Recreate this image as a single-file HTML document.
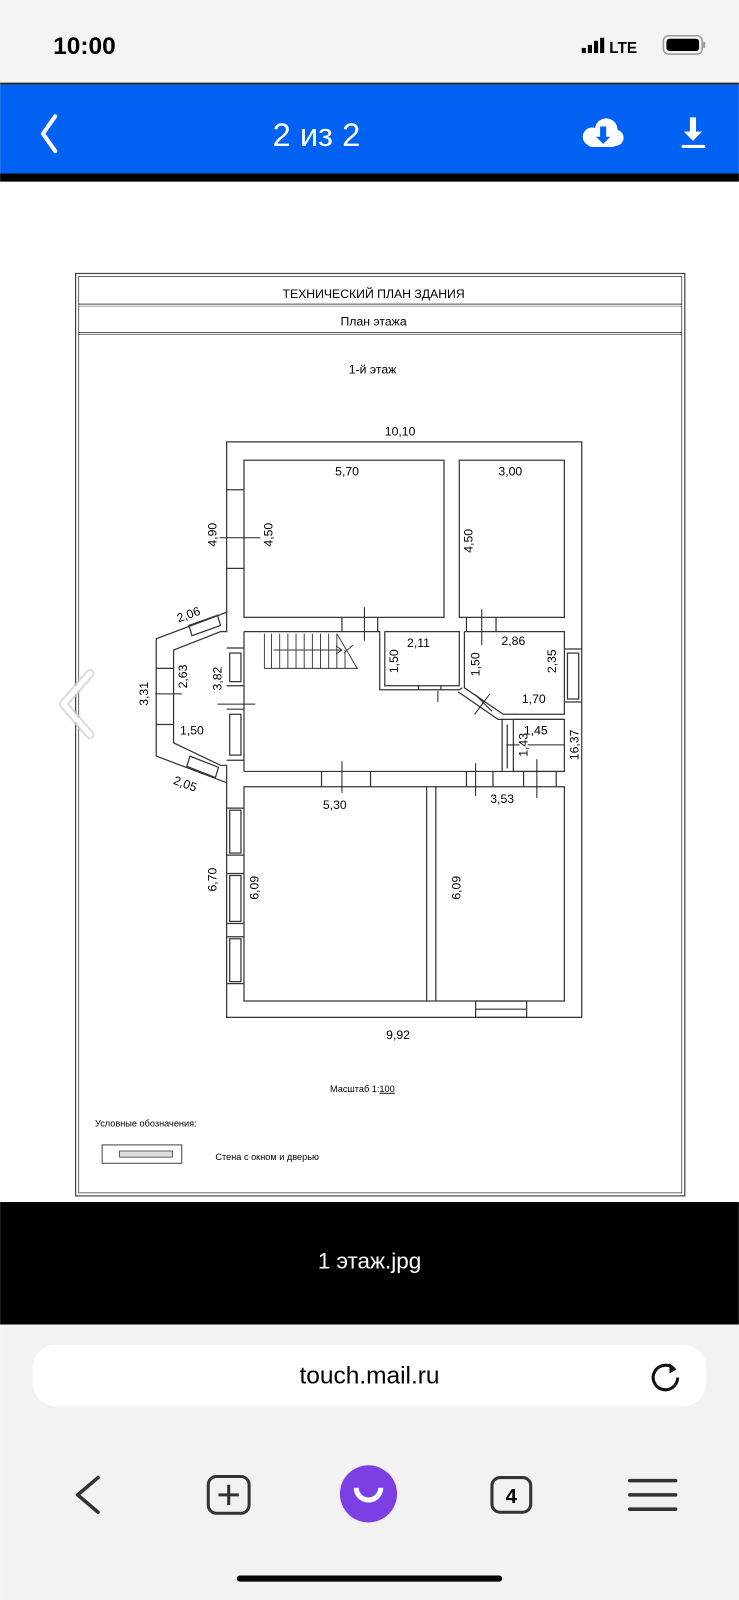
<!DOCTYPE html>
<html><head><meta charset="utf-8"><style>
html,body{margin:0;padding:0;width:739px;height:1600px;overflow:hidden;background:#fff}
svg{display:block}
text{font-family:"Liberation Sans",sans-serif;fill:#000}
</style></head><body>
<svg width="739" height="1600" viewBox="0 0 724 1568" xmlns="http://www.w3.org/2000/svg">
<!-- status bar -->
<rect x="0" y="0" width="724" height="82" fill="#f4f4f4"/>
<text x="52" y="53" font-size="24" font-weight="bold">10:00</text>
<rect x="570" y="47" width="4" height="5" fill="#000"/><rect x="576" y="44" width="4" height="8" fill="#000"/><rect x="582" y="40" width="4" height="12" fill="#000"/><rect x="588" y="37" width="4" height="15" fill="#000"/>
<text x="597" y="52" font-size="15" font-weight="bold">LTE</text>
<rect x="650" y="35" width="38" height="18" rx="5" fill="none" stroke="#999" stroke-width="1.5"/><rect x="653" y="38" width="32" height="12" rx="3" fill="#000"/><rect x="689" y="41" width="2" height="6" fill="#999"/>
<rect x="0" y="81" width="724" height="2" fill="#222"/>
<!-- blue bar -->
<rect x="0" y="83" width="724" height="87" fill="#0061f3"/>
<polyline points="54,114 42,131 54,148" fill="none" stroke="#fff" stroke-width="4" stroke-linecap="round" stroke-linejoin="round"/>
<text x="310" y="143" font-size="32" fill="#fff" text-anchor="middle" style="fill:#fff">2 из 2</text>
<circle cx="580" cy="134" r="9" fill="#fff"/><circle cx="594" cy="127" r="11" fill="#fff"/><circle cx="603" cy="135" r="8" fill="#fff"/><rect x="575" y="134" width="30" height="10" rx="5" fill="#fff"/>
<path d="M588 124v10h-4l7 7 7-7h-4v-10z" fill="#0061f3"/>
<path d="M676 115v14h-6l9 9 9-9h-6v-14z" fill="#fff"/><rect x="668" y="142" width="23" height="3" fill="#fff"/>
<rect x="0" y="170" width="724" height="8" fill="#000"/>
<!-- frame -->
<g fill="none" stroke="#444">
<rect x="74" y="268" width="597" height="904" stroke-width="1.2"/>
<rect x="77" y="271" width="591" height="898" stroke-width="0.8"/>
<line x1="77" y1="298" x2="668" y2="298"/><line x1="77" y1="300" x2="668" y2="300" stroke-width="0.6"/>
<line x1="77" y1="326" x2="668" y2="326"/><line x1="77" y1="328" x2="668" y2="328" stroke-width="0.6"/>
</g>
<text x="366" y="292" font-size="12" text-anchor="middle">ТЕХНИЧЕСКИЙ ПЛАН ЗДАНИЯ</text>
<text x="366" y="319" font-size="12" text-anchor="middle">План этажа</text>
<text x="365" y="366" font-size="12" text-anchor="middle">1-й этаж</text>
<!-- plan -->
<g fill="none" stroke="#333" stroke-width="1.2">
<polyline points="222,600 222,433 570,433 570,997 222,997 222,767"/>
<polygon points="222,600 153,626 153,741 222,767 222,750 216,750 170,728 170,637 216,619 222,619"/>
<rect x="239" y="451" width="196" height="154"/>
<rect x="450" y="451" width="103" height="154"/>
<polyline points="239,619 372,619 372,676 450,676 453,674"/>
<line x1="239" y1="619" x2="239" y2="756"/>
<rect x="377" y="619" width="73" height="53"/>
<polyline points="455,619 553,619 553,700 493,700 455,674 455,619"/>
<polyline points="449,678 488,705 553,705"/>
<polyline points="239,756 492,756 492,705"/>
<rect x="503" y="705" width="50" height="51"/>
<line x1="492" y1="756" x2="553" y2="756"/>
<rect x="239" y="771" width="314" height="210"/>
<line x1="418" y1="771" x2="418" y2="981"/><line x1="427" y1="771" x2="427" y2="981"/>
<!-- windows -->
<line x1="222" y1="480" x2="239" y2="480"/><line x1="222" y1="557" x2="239" y2="557"/>
<rect x="225" y="640" width="11" height="28"/><rect x="225" y="700" width="11" height="40"/>
<line x1="222" y1="635" x2="239" y2="635"/><line x1="222" y1="672" x2="239" y2="672"/><line x1="222" y1="695" x2="239" y2="695"/><line x1="222" y1="745" x2="239" y2="745"/>
<rect x="225" y="794" width="11" height="42"/><rect x="225" y="858" width="11" height="45"/><rect x="225" y="920" width="11" height="42"/>
<line x1="222" y1="792" x2="239" y2="792"/><line x1="222" y1="838" x2="239" y2="838"/><line x1="222" y1="856" x2="239" y2="856"/><line x1="222" y1="905" x2="239" y2="905"/><line x1="222" y1="918" x2="239" y2="918"/><line x1="222" y1="964" x2="239" y2="964"/>
<rect x="556" y="640" width="11" height="45"/><line x1="553" y1="636" x2="570" y2="636"/><line x1="553" y1="688" x2="570" y2="688"/>
<line x1="153" y1="655" x2="170" y2="655"/><line x1="153" y1="710" x2="170" y2="710"/>
<polygon points="185,613 213,603 216,613 188,623"/><polygon points="186,741 214,752 211,762 183,751"/>
<rect x="466" y="981" width="50" height="16"/><line x1="466" y1="989" x2="516" y2="989"/>
<!-- door openings -->
<line x1="335" y1="605" x2="335" y2="619"/><line x1="370" y1="605" x2="370" y2="619"/>
<line x1="457" y1="605" x2="457" y2="619"/><line x1="486" y1="605" x2="486" y2="619"/>
<line x1="315" y1="756" x2="315" y2="771"/><line x1="363" y1="756" x2="363" y2="771"/>
<line x1="457" y1="756" x2="457" y2="771"/><line x1="483" y1="756" x2="483" y2="771"/><line x1="513" y1="756" x2="513" y2="771"/><line x1="545" y1="756" x2="545" y2="771"/>
<line x1="410" y1="672" x2="410" y2="676"/><line x1="432" y1="672" x2="432" y2="676"/>
<line x1="497" y1="710" x2="497" y2="753"/>
</g>
<!-- stairs -->
<g fill="none" stroke="#333" stroke-width="0.9">
<polyline points="259,621 259,655 350,655 330,621"/>
<line x1="266" y1="621" x2="266" y2="655"/><line x1="274" y1="621" x2="274" y2="655"/><line x1="282" y1="621" x2="282" y2="655"/><line x1="290" y1="621" x2="290" y2="655"/><line x1="298" y1="621" x2="298" y2="655"/><line x1="306" y1="621" x2="306" y2="655"/><line x1="314" y1="621" x2="314" y2="655"/><line x1="322" y1="621" x2="322" y2="655"/><line x1="330" y1="621" x2="330" y2="655"/><line x1="338" y1="637" x2="338" y2="655"/>
<line x1="268" y1="637" x2="335" y2="637"/><polyline points="329,633 335,637 329,641"/><line x1="337" y1="640" x2="346" y2="632"/>
</g>
<!-- dim lines -->
<g stroke="#222" stroke-width="1">
<line x1="215" y1="527" x2="255" y2="527"/><line x1="357" y1="595" x2="357" y2="628"/><line x1="472" y1="597" x2="472" y2="632"/>
<line x1="152" y1="680" x2="178" y2="680"/><line x1="213" y1="690" x2="250" y2="690"/>
<line x1="335" y1="746" x2="335" y2="777"/><line x1="466" y1="748" x2="466" y2="780"/><line x1="526" y1="744" x2="526" y2="782"/>
<line x1="517" y1="730" x2="553" y2="730"/><line x1="496" y1="730" x2="509" y2="730"/><line x1="429" y1="677" x2="429" y2="688"/>
<line x1="465" y1="700" x2="480" y2="680"/><line x1="466" y1="681" x2="482" y2="697"/>
</g>
<g font-size="12">
<text x="392" y="427" text-anchor="middle">10,10</text>
<text x="340" y="466" text-anchor="middle">5,70</text>
<text x="500" y="466" text-anchor="middle">3,00</text>
<text x="410" y="634" text-anchor="middle">2,11</text>
<text x="503" y="632" text-anchor="middle">2,86</text>
<text x="523" y="689" text-anchor="middle">1,70</text>
<text x="188" y="720" text-anchor="middle">1,50</text>
<text x="525" y="720" text-anchor="middle">1,45</text>
<text x="328" y="793" text-anchor="middle">5,30</text>
<text x="492" y="787" text-anchor="middle">3,53</text>
<text x="390" y="1018" text-anchor="middle">9,92</text>
<text transform="translate(212,524) rotate(-90)" text-anchor="middle">4,90</text>
<text transform="translate(267,524) rotate(-90)" text-anchor="middle">4,50</text>
<text transform="translate(463,530) rotate(-90)" text-anchor="middle">4,50</text>
<text transform="translate(186,606) rotate(-20)" text-anchor="middle">2,06</text>
<text transform="translate(390,648) rotate(-90)" text-anchor="middle">1,50</text>
<text transform="translate(470,651) rotate(-90)" text-anchor="middle">1,50</text>
<text transform="translate(545,648) rotate(-90)" text-anchor="middle">2,35</text>
<text transform="translate(145,680) rotate(-90)" text-anchor="middle">3,31</text>
<text transform="translate(183,663) rotate(-90)" text-anchor="middle">2,63</text>
<text transform="translate(217,665) rotate(-90)" text-anchor="middle">3,82</text>
<text transform="translate(517,730) rotate(-90)" text-anchor="middle">1,43</text>
<text transform="translate(567,730) rotate(-90)" text-anchor="middle">16,37</text>
<text transform="translate(180,772) rotate(20)" text-anchor="middle">2,05</text>
<text transform="translate(212,862) rotate(-90)" text-anchor="middle">6,70</text>
<text transform="translate(253,870) rotate(-90)" text-anchor="middle">6,09</text>
<text transform="translate(451,870) rotate(-90)" text-anchor="middle">6,09</text>
</g>
<text x="355" y="1070" font-size="9" text-anchor="middle">Масштаб 1:<tspan text-decoration="underline">100</tspan></text>
<text x="93" y="1104" font-size="9">Условные обозначения:</text>
<rect x="100" y="1122" width="78" height="18" fill="none" stroke="#444"/>
<rect x="117" y="1128" width="52" height="6" fill="#ddd" stroke="#444" stroke-width="0.8"/>
<text x="211" y="1137" font-size="9">Стена с окном и дверью</text>
<!-- overlay chevron -->
<polyline points="88,660 62,690 88,720" fill="none" stroke="#ccc" stroke-width="9" stroke-linecap="round" stroke-linejoin="round" opacity="0.7"/>
<polyline points="88,660 62,690 88,720" fill="none" stroke="#fff" stroke-width="5" stroke-linecap="round" stroke-linejoin="round"/>
<!-- black caption bar -->
<rect x="0" y="1178" width="724" height="120" fill="#000"/>
<text x="362" y="1243" font-size="22" text-anchor="middle" style="fill:#fff">1 этаж.jpg</text>
<!-- bottom browser -->
<rect x="0" y="1298" width="724" height="270" fill="#f2f2f2"/>
<rect x="32" y="1318" width="660" height="60" rx="22" fill="#fff"/>
<text x="362" y="1356" font-size="24" text-anchor="middle" fill="#222">touch.mail.ru</text>
<path d="M664 1350a12 12 0 1 1-4-9" fill="none" stroke="#111" stroke-width="3"/><path d="M656 1336l7 6-7 4z" fill="#111"/>
<polyline points="96,1448 76,1465 96,1482" fill="none" stroke="#333" stroke-width="3.5" stroke-linecap="round" stroke-linejoin="round"/>
<rect x="204" y="1447" width="40" height="36" rx="8" fill="none" stroke="#333" stroke-width="3"/>
<path d="M224 1455v20M214 1465h20" stroke="#333" stroke-width="3"/>
<circle cx="361" cy="1464" r="28" fill="#7b3fe4"/>
<path d="M349 1474a12 12 0 1 1 24 0" fill="none" stroke="#fff" stroke-width="5" transform="rotate(180 361 1466)"/>
<rect x="482" y="1448" width="38" height="34" rx="8" fill="none" stroke="#333" stroke-width="3"/>
<text x="501" y="1473" font-size="20" font-weight="bold" text-anchor="middle" fill="#333">4</text>
<path d="M617 1451h45M617 1465h45M617 1479h45" stroke="#333" stroke-width="3.5" stroke-linecap="round"/>
<rect x="232" y="1544" width="260" height="6" rx="3" fill="#000"/>
</svg>
</body></html>
